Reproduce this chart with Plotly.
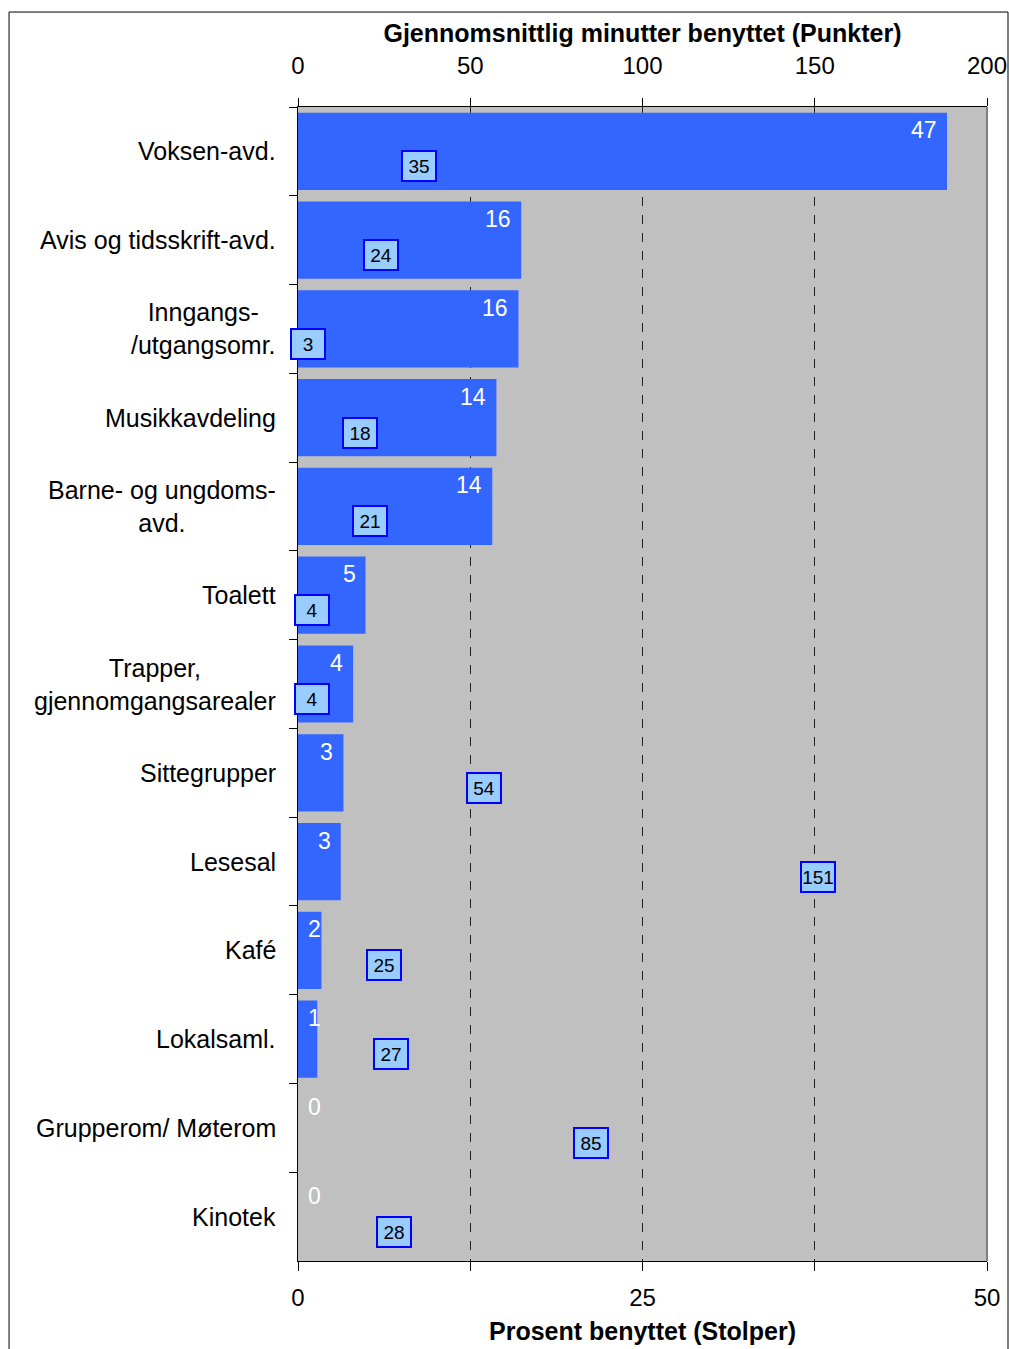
import plotly.graph_objects as go

categories = ["Voksen-avd.", "Avis og tidsskrift-avd.", "Inngangs-<br>/utgangsomr.",
              "Musikkavdeling", "Barne- og ungdoms-<br>avd.", "Toalett",
              "Trapper,<br>gjennomgangsarealer", "Sittegrupper", "Lesesal", "Kafé",
              "Lokalsaml.", "Grupperom/ Møterom", "Kinotek"]
percent_used = [47.1, 16.2, 16.0, 14.4, 14.1, 4.9, 4.0, 3.3, 3.1, 1.7, 1.4, 0, 0]
avg_minutes = [35, 24, 3, 18, 21, 4, 4, 54, 151, 25, 27, 85, 28]
bottom_ticks = [0, 12.5, 25, 37.5, 50]
bottom_ticktext = ["0", "", "25", "", "50"]
top_ticks = [0, 50, 100, 150, 200]

FONT = "Liberation Sans, Arial, sans-serif"
BAR_COLOR = "#3366FF"

fig = go.Figure()
fig.add_trace(go.Bar(
    x=percent_used, y=categories, orientation="h",
    marker=dict(color=BAR_COLOR, line=dict(width=0)),
    width=0.87, xaxis="x", yaxis="y", showlegend=False, hoverinfo="x+y",
))
fig.add_trace(go.Scatter(
    x=avg_minutes, y=categories, mode="markers",
    marker=dict(size=1, opacity=0),
    xaxis="x2", yaxis="y", showlegend=False,
))

annotations = []
# bar value labels
for cat, v in zip(categories, percent_used):
    if v >= 2.5:
        annotations.append(dict(x=v, y=cat, xref="x", yref="y", text=f"{v:.0f}",
                                xanchor="right", xshift=-8, yshift=21, showarrow=False,
                                font=dict(family=FONT, size=23, color="white")))
    else:
        annotations.append(dict(x=0, y=cat, xref="x", yref="y", text=f"{v:.0f}",
                                xanchor="left", xshift=8, yshift=21, showarrow=False,
                                font=dict(family=FONT, size=23, color="white")))
# point labels (boxes)
for cat, m in zip(categories, avg_minutes):
    annotations.append(dict(x=m, y=cat, xref="x2", yref="y", text=f"{m}",
                            xanchor="center", yanchor="middle", yshift=-15, showarrow=False,
                            width=32, height=28, borderpad=0, borderwidth=2,
                            bordercolor="#0000FF", bgcolor="#99CCFF",
                            font=dict(family=FONT, size=19, color="black")))
# category labels (centered multi-line)
for cat in categories:
    annotations.append(dict(x=0, y=cat, xref="paper", yref="y", text=cat,
                            xanchor="right", yanchor="middle", xshift=-20, align="center",
                            showarrow=False, font=dict(family=FONT, size=25, color="black")))

fig.update_layout(
    width=1009, height=1349, autosize=False,
    margin=dict(l=298, r=22, t=107, b=88, autoexpand=False),
    paper_bgcolor="white", plot_bgcolor="#C0C0C0",
    font=dict(family=FONT, color="black"),
    xaxis=dict(range=[0, 50], tickvals=bottom_ticks, ticktext=bottom_ticktext,
               showgrid=False, zeroline=False, showline=True, linecolor="black", linewidth=1,
               ticks="outside", ticklen=9, tickcolor="black", ticklabelstandoff=6,
               tickfont=dict(size=24, family=FONT), automargin=False,
               title=dict(text="<b>Prosent benyttet (Stolper)</b>", standoff=12,
                          font=dict(size=25, family=FONT)),
               fixedrange=True),
    xaxis2=dict(range=[0, 200], tickvals=top_ticks, overlaying="x", side="top",
                showgrid=True, gridcolor="#222222", griddash="dash", gridwidth=1,
                zeroline=False, showline=True, linecolor="black", linewidth=1,
                ticks="outside", ticklen=8, tickcolor="black", ticklabelstandoff=14,
                tickfont=dict(size=24, family=FONT), automargin=False,
                title=dict(text="<b>Gjennomsnittlig minutter benyttet (Punkter)</b>", standoff=2,
                           font=dict(size=25, family=FONT)),
                fixedrange=True),
    yaxis=dict(categoryorder="array", categoryarray=categories, range=[12.5, -0.5],
               showticklabels=False, showgrid=False, zeroline=False,
               showline=True, linecolor="black", linewidth=1, automargin=False,
               ticks="outside", ticklen=8, tickcolor="black", tickson="boundaries",
               fixedrange=True),
    annotations=annotations,
    shapes=[
        dict(type="line", xref="paper", yref="paper", x0=1, x1=1, y0=0, y1=1,
             line=dict(color="#808080", width=2)),
        dict(type="rect", xref="paper", yref="paper", x0=-0.4194, x1=1.0305,
             y0=-0.0789, y1=1.0823, line=dict(color="black", width=1)),
    ],
)

fig.write_html(
    "out.html",
    config={"displayModeBar": False, "responsive": False},
    post_script="document.body.style.margin='0';document.body.style.overflow='hidden';"
                "document.documentElement.style.overflow='hidden';",
)
